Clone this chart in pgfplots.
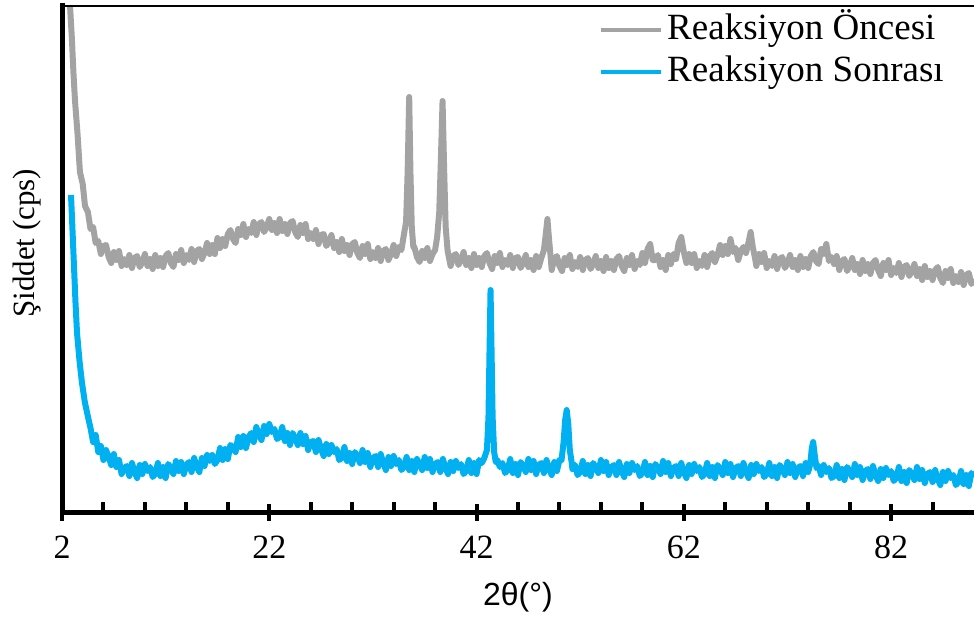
\documentclass[border=0pt]{standalone}
\usepackage{fontspec}
\setmainfont{Liberation Serif}
\newfontfamily\sansf{Liberation Sans}
\usepackage{pgfplots}
\pgfplotsset{compat=1.18}
\definecolor{grayc}{RGB}{163,163,163}
\definecolor{bluec}{RGB}{0,176,240}
\begin{document}
\begin{tikzpicture}
\begin{axis}[
  name=ax,
  scale only axis,
  width=456pt, height=253.5pt,
  xmin=2, xmax=90, ymin=0, ymax=507,
  axis x line*=bottom, axis y line*=left,
  axis line style={line width=2.5pt, line cap=rect},
  xtick={2,22,42,62,82},
  ytick=\empty,
  tick align=center,
  major tick length=8.5pt,
  every tick/.style={line width=2pt, black},
  extra x ticks={6,10,14,18,26,30,34,38,46,50,54,58,66,70,74,78,86},
  extra x tick labels={},
  extra x tick style={tick align=inside, major tick length=5pt},
  /pgf/number format/assume math mode=true,
  xticklabel style={font=\fontsize{17}{20}\selectfont, yshift=-4pt},
  xlabel={\sansf 2θ(°)},
  xlabel style={font=\fontsize{16}{19}\selectfont, at={(axis description cs:0.5,0)}, anchor=center, yshift=-42.5pt},
  ylabel={Şiddet (cps)},
  ylabel style={font=\fontsize{15.5}{18}\selectfont, at={(axis description cs:-0.0384,0.53)}, anchor=center},
  legend cell align=left,
  legend image code/.code={\draw[#1, line width=2pt] (0pt,0pt) -- (30pt,0pt);},
  legend style={at={(axis description cs:0.593,1)}, anchor=north west, xshift=-2.25pt, yshift=-4pt, draw=none, fill=none, inner sep=0pt, row sep=4pt, font=\fontsize{18.5}{21}\selectfont, nodes={inner ysep=0pt, inner xsep=2.25pt, text height=13pt, text depth=4pt}},
]
\addplot[grayc, line width=3pt, line join=round] coordinates {
(2.70,540)(2.77,507)(2.96,472)(3.10,440)(3.25,412)(3.50,378)(3.73,340)(4.00,328)(4.22,306)(4.50,300)(4.75,283)
(5.00,285)(5.25,269)(5.50,271)(5.75,258)(6.00,266)(6.25,267)(6.50,255)(6.75,249)(7.00,260)(7.25,252)(7.50,261)(7.75,246)
(8.00,253)(8.25,247)(8.50,257)(8.75,244)(9.00,254)(9.25,256)(9.50,245)(9.75,250)(10.00,258)(10.25,246)(10.50,253)(10.75,243)
(11.00,257)(11.25,246)(11.50,254)(11.75,245)(12.00,256)(12.25,259)(12.50,249)(12.75,245)(13.00,258)(13.25,252)(13.50,262)(13.75,249)
(14.00,257)(14.25,252)(14.50,263)(14.75,250)(15.00,261)(15.25,263)(15.50,253)(15.75,259)(16.00,269)(16.25,258)(16.50,267)(16.75,258)
(17.00,274)(17.25,264)(17.50,273)(17.75,266)(18.00,278)(18.25,282)(18.50,273)(18.75,269)(19.00,283)(19.25,277)(19.50,288)(19.75,275)
(20.00,283)(20.25,279)(20.50,290)(20.75,277)(21.00,288)(21.25,290)(21.50,280)(21.75,285)(22.00,293)(22.25,282)(22.50,289)(22.75,279)
(23.00,293)(23.25,281)(23.50,288)(23.75,278)(24.00,289)(24.25,291)(24.50,280)(24.75,275)(25.00,287)(25.25,279)(25.50,288)(25.75,273)
(26.00,279)(26.25,273)(26.50,282)(26.75,268)(27.00,277)(27.25,278)(27.50,266)(27.75,270)(28.00,277)(28.25,264)(28.50,270)(28.75,260)
(29.00,273)(29.25,261)(29.50,267)(29.75,257)(30.00,268)(30.25,270)(30.50,259)(30.75,254)(31.00,266)(31.25,258)(31.50,268)(31.75,253)
(32.00,260)(32.25,254)(32.50,264)(32.75,251)(33.00,261)(33.25,263)(33.50,252)(33.75,258)(34.00,267)(34.25,256)(34.50,265)(34.75,262)
(35.00,278)(35.20,290)(35.35,340)(35.50,415)(35.62,340)(35.75,285)(35.90,265)
(36.00,265)(36.25,255)(36.50,250)(36.75,261)(37.00,254)(37.25,264)(37.50,251)(37.75,258)(38.00,262)(38.20,275)(38.40,300)(38.55,350)
(38.72,411)(38.88,340)(39.02,285)(39.20,262)
(39.25,259)(39.50,246)(39.75,256)(40.00,258)(40.25,247)(40.50,252)(40.75,260)(41.00,247)(41.25,254)(41.50,244)(41.75,258)(42.00,247)
(42.25,254)(42.50,245)(42.75,256)(43.00,259)(43.25,249)(43.50,243)(43.75,256)(44.00,249)(44.25,259)(44.50,245)(44.75,252)(45.00,247)
(45.25,257)(45.50,244)(45.75,254)(46.00,255)(46.25,244)(46.50,249)(46.75,257)(47.00,245)(47.25,252)(47.50,242)(47.75,256)(48.00,245)
(48.25,254)(48.50,262)(48.65,275)(48.84,293)(49.00,272)(49.15,255)
(49.25,242)(49.50,253)(49.75,256)(50.00,246)(50.25,241)(50.50,254)(50.75,247)(51.00,257)(51.25,243)(51.50,250)(51.75,245)(52.00,255)
(52.25,242)(52.50,252)(52.75,254)(53.00,243)(53.25,248)(53.50,256)(53.75,244)(54.00,251)(54.25,241)(54.50,255)(54.75,244)(55.00,251)
(55.25,242)(55.50,253)(55.75,256)(56.00,246)(56.25,241)(56.50,254)(56.75,247)(57.00,257)(57.25,243)(57.50,251)(57.75,247)(58.00,259)
(58.25,249)(58.50,263)(58.75,268)(59.00,252)(59.25,252)(59.50,257)(59.75,245)(60.00,252)(60.25,242)(60.50,257)(60.75,248)(61.00,258)
(61.25,253)(61.50,269)(61.75,275)(62.00,260)(62.25,249)(62.50,258)(62.75,249)(63.00,258)(63.25,244)(63.50,251)(63.75,246)(64.00,257)
(64.25,245)(64.50,256)(64.75,259)(65.00,250)(65.25,257)(65.50,267)(65.75,257)(66.00,266)(66.25,258)(66.50,273)(66.75,260)(67.00,264)
(67.25,252)(67.50,261)(67.75,265)(68.00,259)(68.25,270)(68.45,280)(68.65,265)(68.85,255)
(69.00,246)(69.25,258)(69.50,250)(69.75,259)(70.00,244)(70.25,251)(70.50,246)(70.75,256)(71.00,243)(71.25,253)(71.50,255)(71.75,244)
(72.00,249)(72.25,257)(72.50,245)(72.75,252)(73.00,242)(73.25,256)(73.50,245)(73.75,253)(74.00,244)(74.25,256)(74.50,260)(74.75,251)
(75.00,248)(75.25,263)(75.50,258)(75.75,268)(76.00,251)(76.25,255)(76.50,248)(76.75,256)(77.00,242)(77.25,251)(77.50,253)(77.75,241)
(78.00,246)(78.25,254)(78.50,242)(78.75,248)(79.00,238)(79.25,252)(79.50,241)(79.75,248)(80.00,238)(80.25,249)(80.50,252)(80.75,242)
(81.00,236)(81.25,249)(81.50,242)(81.75,252)(82.00,237)(82.25,244)(82.50,239)(82.75,249)(83.00,235)(83.25,245)(83.50,247)(83.75,236)
(84.00,241)(84.25,248)(84.50,236)(84.75,243)(85.00,232)(85.25,246)(85.50,235)(85.75,241)(86.00,232)(86.25,242)(86.50,245)(86.75,234)
(87.00,229)(87.25,241)(87.50,234)(87.75,243)(88.00,229)(88.25,236)(88.50,230)(88.75,240)(89.00,227)(89.25,237)(89.50,239)(89.75,228)
(90.00,233)
};
\addlegendentry{Reaksiyon Öncesi}
\addplot[bluec, line width=3pt, line join=round] coordinates {
(2.87,317)(3.00,285)(3.16,245)(3.30,210)(3.45,179)(3.70,150)(3.93,129)(4.20,110)(4.51,95)(4.75,84)
(5.00,70)(5.25,77)(5.50,60)(5.75,66)(6.00,52)(6.25,62)(6.50,55)(6.75,47)(7.00,58)(7.25,45)(7.50,52)(7.75,38)
(8.00,44)(8.25,46)(8.50,36)(8.75,49)(9.00,40)(9.25,34)(9.50,47)(9.75,38)(10.00,48)(10.25,41)(10.50,45)(10.75,35)
(11.00,38)(11.25,49)(11.50,36)(11.75,45)(12.00,34)(12.25,48)(12.50,44)(12.75,38)(13.00,51)(13.25,41)(13.50,50)(13.75,38)
(14.00,47)(14.25,50)(14.50,40)(14.75,54)(15.00,45)(15.25,40)(15.50,54)(15.75,46)(16.00,57)(16.25,51)(16.50,57)(16.75,48)
(17.00,52)(17.25,64)(17.50,52)(17.75,63)(18.00,53)(18.25,67)(18.50,65)(18.75,60)(19.00,75)(19.25,65)(19.50,76)(19.75,64)
(20.00,75)(20.25,79)(20.50,70)(20.75,85)(21.00,77)(21.25,72)(21.50,86)(21.75,78)(22.00,88)(22.25,80)(22.50,83)(22.75,73)
(23.00,75)(23.25,85)(23.50,71)(23.75,79)(24.00,67)(24.25,79)(24.50,74)(24.75,67)(25.00,79)(25.25,68)(25.50,76)(25.75,62)
(26.00,70)(26.25,71)(26.50,60)(26.75,72)(27.00,63)(27.25,56)(27.50,68)(27.75,58)(28.00,67)(28.25,60)(28.50,63)(28.75,52)
(29.00,54)(29.25,65)(29.50,51)(29.75,59)(30.00,48)(30.25,60)(30.50,56)(30.75,49)(31.00,62)(31.25,50)(31.50,59)(31.75,45)
(32.00,54)(32.25,56)(32.50,45)(32.75,58)(33.00,49)(33.25,42)(33.50,55)(33.75,46)(34.00,56)(34.25,48)(34.50,52)(34.75,42)
(35.00,45)(35.25,55)(35.50,42)(35.75,51)(36.00,40)(36.25,53)(36.50,48)(36.75,42)(37.00,55)(37.25,44)(37.50,53)(37.75,40)
(38.00,48)(38.25,50)(38.50,40)(38.75,53)(39.00,44)(39.25,38)(39.50,50)(39.75,41)(40.00,51)(40.25,44)(40.50,48)(40.75,38)
(41.00,41)(41.25,52)(41.50,39)(41.75,49)(42.00,38)(42.25,52)(42.50,49)(42.75,54)(43.00,62)
(43.15,95)(43.25,160)(43.35,222)(43.45,160)(43.55,95)(43.70,60)(43.85,50)
(44.00,52)(44.25,45)(44.50,49)(44.75,39)(45.00,42)(45.25,53)(45.50,39)(45.75,48)(46.00,37)(46.25,50)(46.50,46)(46.75,40)
(47.00,53)(47.25,42)(47.50,51)(47.75,38)(48.00,47)(48.25,49)(48.50,39)(48.75,52)(49.00,43)(49.25,37)(49.50,50)(49.75,41)
(50.00,52)(50.20,52)(50.40,70)(50.55,92)(50.70,102)(50.85,88)(51.00,62)(51.20,48)
(51.25,43)(51.50,47)(51.75,37)(52.00,40)(52.25,51)(52.50,38)(52.75,47)(53.00,36)(53.25,49)(53.50,45)(53.75,39)(54.00,52)
(54.25,41)(54.50,50)(54.75,37)(55.00,45)(55.25,47)(55.50,37)(55.75,50)(56.00,41)(56.25,35)(56.50,48)(56.75,39)(57.00,49)
(57.25,42)(57.50,46)(57.75,36)(58.00,39)(58.25,50)(58.50,37)(58.75,46)(59.00,35)(59.25,48)(59.50,44)(59.75,38)(60.00,51)
(60.25,40)(60.50,49)(60.75,36)(61.00,44)(61.25,46)(61.50,36)(61.75,49)(62.00,40)(62.25,34)(62.50,47)(62.75,38)(63.00,48)
(63.25,41)(63.50,45)(63.75,35)(64.00,38)(64.25,49)(64.50,36)(64.75,45)(65.00,34)(65.25,47)(65.50,43)(65.75,37)(66.00,50)
(66.25,39)(66.50,48)(66.75,35)(67.00,44)(67.25,46)(67.50,36)(67.75,49)(68.00,40)(68.25,34)(68.50,47)(68.75,38)(69.00,48)
(69.25,41)(69.50,45)(69.75,35)(70.00,38)(70.25,49)(70.50,36)(70.75,45)(71.00,34)(71.25,47)(71.50,43)(71.75,37)(72.00,50)
(72.25,39)(72.50,48)(72.75,35)(73.00,44)(73.25,46)(73.50,36)(73.75,49)(74.00,40)
(74.20,48)(74.35,64)(74.48,70)(74.62,58)(74.80,44)
(75.00,46)(75.25,37)(75.50,47)(75.75,40)(76.00,44)(76.25,34)(76.50,36)(76.75,47)(77.00,34)(77.25,43)(77.50,32)(77.75,45)
(78.00,41)(78.25,35)(78.50,48)(78.75,37)(79.00,45)(79.25,32)(79.50,41)(79.75,43)(80.00,33)(80.25,46)(80.50,37)(80.75,31)
(81.00,43)(81.25,34)(81.50,44)(81.75,37)(82.00,41)(82.25,31)(82.50,34)(82.75,45)(83.00,31)(83.25,40)(83.50,29)(83.75,42)
(84.00,38)(84.25,32)(84.50,45)(84.75,33)(85.00,42)(85.25,29)(85.50,38)(85.75,40)(86.00,30)(86.25,42)(86.50,33)(86.75,27)
(87.00,40)(87.25,31)(87.50,41)(87.75,34)(88.00,37)(88.25,27)(88.50,30)(88.75,41)(89.00,28)(89.25,37)(89.50,26)(89.75,39)
(90.00,35)
};
\addlegendentry{Reaksiyon Sonrası}
\draw[line width=2pt, line cap=rect] (rel axis cs:0,1) -- (rel axis cs:1,1);
\end{axis}
\pgfresetboundingbox
\path ([xshift=-31pt,yshift=-53pt]ax.south west) rectangle ([yshift=2.5pt]ax.north east);
\end{tikzpicture}
\end{document}
